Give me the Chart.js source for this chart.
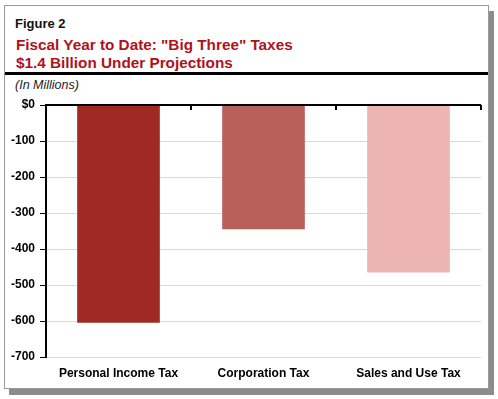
<!DOCTYPE html>
<html>
<head>
<meta charset="utf-8">
<script src="https://cdn.jsdelivr.net/npm/chart.js@4"></script>
<style>
  body { margin: 0; background: #fff; font-family: Arial, "Liberation Sans", sans-serif; }
  #frame { position: absolute; left: 4px; top: 5px; width: 483px; height: 382px; border: 1px solid #9a9a9a; box-shadow: 5px 6px 0 #8c8c8c; background: #fff; }
  .fig { position: absolute; left: 10px; top: 10px; font-size: 13px; font-weight: bold; color: #111; }
  .ttl { position: absolute; left: 11px; font-size: 15.3px; font-weight: bold; color: #b0121c; }
  #rule { position: absolute; left: 0; top: 66px; width: 483px; height: 3px; background: #000; }
  .unit { position: absolute; left: 10px; top: 72px; font-size: 12.5px; font-style: italic; color: #222; }
  #wrap { position: absolute; left: 0; top: 92px; width: 490px; height: 294px; }
</style>
</head>
<body>
<div id="frame">
  <div class="fig">Figure 2</div>
  <div class="ttl" style="top:30px">Fiscal Year to Date: "Big Three" Taxes</div>
  <div class="ttl" style="top:48px">$1.4 Billion Under Projections</div>
  <div id="rule"></div>
  <div class="unit">(In Millions)</div>
</div>
<div id="wrap"><canvas id="chart"></canvas></div>
<script>
const categories = ['Personal Income Tax', 'Corporation Tax', 'Sales and Use Tax'];
const values = [-605, -345, -465];
const barColors = ['#a02a23', '#b9605b', '#ecb5b3'];
const yTicks = [0, -100, -200, -300, -400, -500, -600, -700];

// zero line with category tick marks pointing down
const zeroLine = {
    id: 'zeroLine',
    afterDatasetsDraw(chart) {
        const { ctx, scales: { x, y } } = chart;
        const y0 = y.getPixelForValue(0);
        ctx.save();
        ctx.strokeStyle = '#000';
        ctx.lineWidth = 2;
        ctx.beginPath();
        ctx.moveTo(x.left, y0);
        ctx.lineTo(x.right, y0);
        const step = (x.right - x.left) / categories.length;
        for (let i = 1; i <= categories.length; i++) {
            const px = x.left + step * i;
            ctx.moveTo(px, y0);
            ctx.lineTo(px, y0 + 5);
        }
        ctx.stroke();
        ctx.restore();
    }
};

new Chart(document.getElementById('chart'), {
    type: 'bar',
    data: {
        labels: categories,
        datasets: [{
            data: values,
            backgroundColor: barColors,
            borderWidth: 0,
            categoryPercentage: 1,
            barPercentage: 0.57
        }]
    },
    options: {
        responsive: true,
        maintainAspectRatio: false,
        animation: false,
        layout: { padding: { top: 13, right: 9, left: 0, bottom: 0 } },
        plugins: { legend: { display: false }, tooltip: { enabled: false } },
        scales: {
            y: {
                min: -700,
                max: 0,
                afterFit: s => { s.width = 46; },
                afterBuildTicks: s => { s.ticks = yTicks.map(v => ({ value: v })); },
                border: { color: '#000', width: 2 },
                grid: {
                    color: c => c.tick && c.tick.value === 0 ? 'rgba(0,0,0,0)' : '#d9d9d9',
                    tickColor: '#000',
                    tickLength: 6,
                    lineWidth: 1
                },
                ticks: {
                    color: '#000',
                    padding: 5,
                    font: { family: 'Arial, "Liberation Sans"', size: 12, weight: 'bold' },
                    callback: v => v === 0 ? '$0' : v
                }
            },
            x: {
                afterFit: s => { s.height = 29; },
                border: { display: false },
                grid: { display: false, drawTicks: false },
                ticks: {
                    color: '#000',
                    padding: 9,
                    font: { family: 'Arial, "Liberation Sans"', size: 12, weight: 'bold' }
                }
            }
        }
    },
    plugins: [zeroLine]
});
</script>
</body>
</html>
